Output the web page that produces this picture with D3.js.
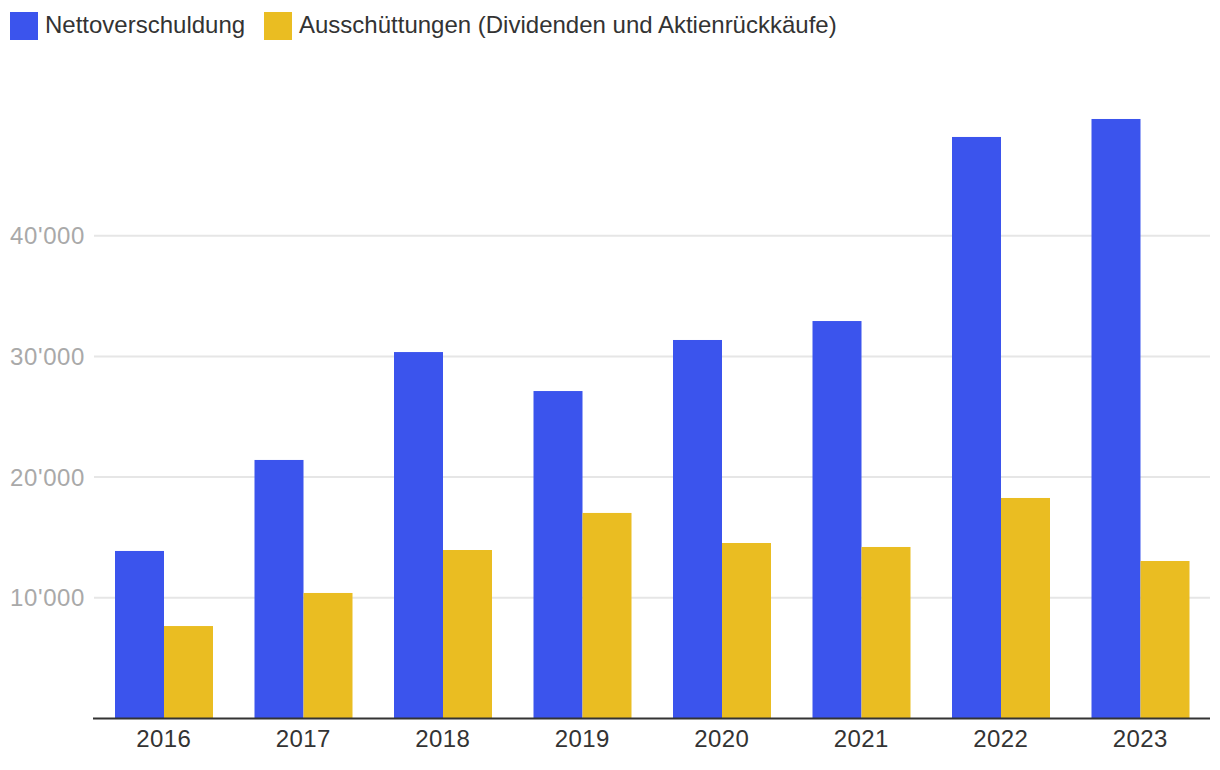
<!DOCTYPE html>
<html><head><meta charset="utf-8">
<script src="https://cdn.jsdelivr.net/npm/d3@7"></script>
<style>
html,body{margin:0;padding:0;background:#fff;}
text{font-family:"Liberation Sans",Arial,Helvetica,sans-serif;}
</style></head>
<body><svg id="c" width="1220" height="770"></svg>
<script>
const years = ["2016","2017","2018","2019","2020","2021","2022","2023"];
const nettoverschuldung = [13880,21420,30360,27130,31360,32930,48180,49670];
const ausschuettungen = [7660,10400,13960,17030,14540,14210,18270,13050];
const seriesNames = ["Nettoverschuldung","Ausschüttungen (Dividenden und Aktienrückkäufe)"];
const seriesColors = ["#3b54ed","#eabd22"];
const yTicks = [10000,20000,30000,40000];

const svg = d3.select("#c");
const left = 94, right = 1210, bottom = 718.5;
const x = d3.scaleBand().domain(years).range([left,right]).paddingInner(0).paddingOuter(0);
const y = d3.scaleLinear().domain([0,50000]).range([bottom, bottom - 50000*0.01207]);
const x1 = d3.scaleBand().domain([0,1]).range([21, x.bandwidth()-20.5]);

const fmt = v => d3.format(",")(v).replace(/,/g,"'");

// gridlines
svg.append("g").selectAll("line").data(yTicks).join("line")
  .attr("x1",left).attr("x2",right)
  .attr("y1",d=>y(d)).attr("y2",d=>y(d))
  .attr("stroke","#e6e6e6").attr("stroke-width",2);
svg.append("g").selectAll("text").data(yTicks).join("text")
  .attr("x",85).attr("y",d=>y(d)+8.5).attr("text-anchor","end")
  .attr("font-size",24).attr("letter-spacing","0.6px").attr("fill","#a9a9a9").text(fmt);

// bars
const data = years.map((yr,i)=>({yr, vals:[nettoverschuldung[i], ausschuettungen[i]]}));
const g = svg.append("g");
g.selectAll("g").data(data).join("g")
  .attr("transform",d=>`translate(${x(d.yr)},0)`)
  .selectAll("rect").data(d=>d.vals.map((v,k)=>({v,k}))).join("rect")
  .attr("x",d=>x1(d.k)).attr("width",x1.bandwidth())
  .attr("y",d=>y(d.v)).attr("height",d=>bottom-y(d.v))
  .attr("fill",d=>seriesColors[d.k]);

// x axis
svg.append("line").attr("x1",left-1).attr("x2",right).attr("y1",bottom).attr("y2",bottom)
  .attr("stroke","#333").attr("stroke-width",2);
svg.append("g").selectAll("text").data(years).join("text")
  .attr("x",d=>x(d)+x.bandwidth()/2).attr("y",bottom+28)
  .attr("text-anchor","middle").attr("font-size",24).attr("letter-spacing","0.4px").attr("fill","#333").text(d=>d);

// legend
const lg = svg.append("g");
const legX = [10,264];
seriesNames.forEach((n,i)=>{
  lg.append("rect").attr("x",legX[i]).attr("y",12).attr("width",28).attr("height",28).attr("fill",seriesColors[i]);
  lg.append("text").attr("x",legX[i]+35).attr("y",33).attr("font-size",24).attr("fill","#333").text(n);
});
</script></body></html>
